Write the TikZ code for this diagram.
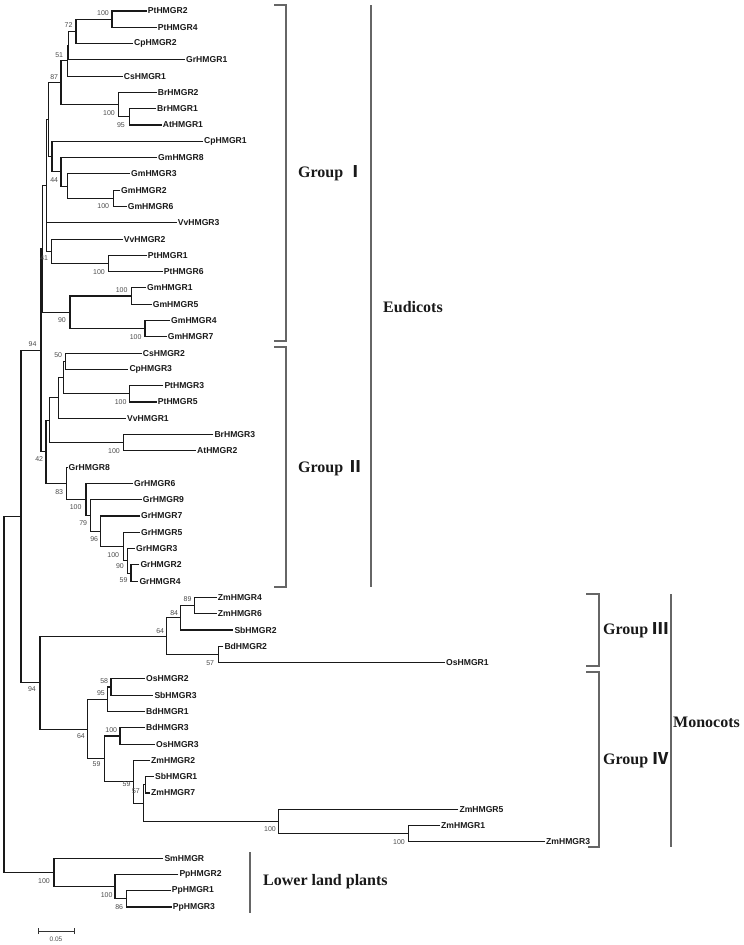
\documentclass[tikz,border=0pt]{standalone}
\usepackage{fontspec}
\setmainfont{Liberation Serif}
\newfontfamily\arialf{Liberation Sans}
\newfontfamily\cjkf{Noto Sans CJK SC}
\begin{document}
\begin{tikzpicture}[x=1pt,y=-1pt,
  leaf/.style={anchor=west, inner sep=1pt, text=black!90, font=\arialf\bfseries\fontsize{8.6}{10}\selectfont},
  bs/.style={anchor=east, inner sep=0pt, text=black!70, font=\arialf\fontsize{7}{8}\selectfont},
  br/.style={line width=1.15pt, black!90},
  grpline/.style={line width=1.2pt, black!60},
  grp/.style={anchor=west, inner sep=0pt, font=\bfseries\fontsize{16}{19}\selectfont, text=black!90}]
\useasboundingbox (0,0) rectangle (744,945);
% ---------- leaves ----------
\node[leaf] (PtHMGR2) at (146.7,11.0) {PtHMGR2};
\node[leaf] (PtHMGR4) at (156.7,27.3) {PtHMGR4};
\node[leaf] (CpHMGR2) at (133.0,43.6) {CpHMGR2};
\node[leaf] (GrHMGR1) at (185.0,59.9) {GrHMGR1};
\node[leaf] (CsHMGR1) at (122.7,76.2) {CsHMGR1};
\node[leaf] (BrHMGR2) at (156.7,92.5) {BrHMGR2};
\node[leaf] (BrHMGR1) at (156.0,108.7) {BrHMGR1};
\node[leaf] (AtHMGR1) at (161.7,125.0) {AtHMGR1};
\node[leaf] (CpHMGR1) at (203.0,141.3) {CpHMGR1};
\node[leaf] (GmHMGR8) at (157.0,157.6) {GmHMGR8};
\node[leaf] (GmHMGR3) at (130.0,173.9) {GmHMGR3};
\node[leaf] (GmHMGR2) at (120.0,190.2) {GmHMGR2};
\node[leaf] (GmHMGR6) at (126.7,206.5) {GmHMGR6};
\node[leaf] (VvHMGR3) at (176.7,222.8) {VvHMGR3};
\node[leaf] (VvHMGR2) at (122.7,239.1) {VvHMGR2};
\node[leaf] (PtHMGR1) at (146.7,255.4) {PtHMGR1};
\node[leaf] (PtHMGR6) at (162.7,271.6) {PtHMGR6};
\node[leaf] (GmHMGR1) at (146.0,287.9) {GmHMGR1};
\node[leaf] (GmHMGR5) at (151.7,304.2) {GmHMGR5};
\node[leaf] (GmHMGR4) at (170.0,320.5) {GmHMGR4};
\node[leaf] (GmHMGR7) at (166.7,336.8) {GmHMGR7};
\node[leaf] (CsHMGR2) at (141.7,353.1) {CsHMGR2};
\node[leaf] (CpHMGR3) at (128.3,369.4) {CpHMGR3};
\node[leaf] (PtHMGR3) at (163.3,385.7) {PtHMGR3};
\node[leaf] (PtHMGR5) at (156.7,402.0) {PtHMGR5};
\node[leaf] (VvHMGR1) at (126.0,418.3) {VvHMGR1};
\node[leaf] (BrHMGR3) at (213.3,434.5) {BrHMGR3};
\node[leaf] (AtHMGR2) at (196.0,450.8) {AtHMGR2};
\node[leaf] (GrHMGR8) at (67.5,467.1) {GrHMGR8};
\node[leaf] (GrHMGR6) at (133.0,483.4) {GrHMGR6};
\node[leaf] (GrHMGR9) at (141.7,499.7) {GrHMGR9};
\node[leaf] (GrHMGR7) at (140.0,516.0) {GrHMGR7};
\node[leaf] (GrHMGR5) at (140.0,532.3) {GrHMGR5};
\node[leaf] (GrHMGR3) at (135.0,548.6) {GrHMGR3};
\node[leaf] (GrHMGR2) at (139.3,564.9) {GrHMGR2};
\node[leaf] (GrHMGR4) at (138.3,581.2) {GrHMGR4};
\node[leaf] (ZmHMGR4) at (216.7,597.5) {ZmHMGR4};
\node[leaf] (ZmHMGR6) at (216.7,613.8) {ZmHMGR6};
\node[leaf] (SbHMGR2) at (233.3,630.0) {SbHMGR2};
\node[leaf] (BdHMGR2) at (223.3,646.3) {BdHMGR2};
\node[leaf] (OsHMGR1) at (445.0,662.6) {OsHMGR1};
\node[leaf] (OsHMGR2) at (145.0,678.9) {OsHMGR2};
\node[leaf] (SbHMGR3) at (153.3,695.2) {SbHMGR3};
\node[leaf] (BdHMGR1) at (145.0,711.5) {BdHMGR1};
\node[leaf] (BdHMGR3) at (145.0,727.8) {BdHMGR3};
\node[leaf] (OsHMGR3) at (155.0,744.1) {OsHMGR3};
\node[leaf] (ZmHMGR2) at (150.0,760.4) {ZmHMGR2};
\node[leaf] (SbHMGR1) at (154.0,776.7) {SbHMGR1};
\node[leaf] (ZmHMGR7) at (150.0,793.0) {ZmHMGR7};
\node[leaf] (ZmHMGR5) at (458.3,809.3) {ZmHMGR5};
\node[leaf] (ZmHMGR1) at (440.0,825.5) {ZmHMGR1};
\node[leaf] (ZmHMGR3) at (545.0,841.8) {ZmHMGR3};
\node[leaf] (SmHMGR) at (163.3,858.1) {SmHMGR};
\node[leaf] (PpHMGR2) at (178.3,874.4) {PpHMGR2};
\node[leaf] (PpHMGR1) at (170.7,890.7) {PpHMGR1};
\node[leaf] (PpHMGR3) at (171.7,907.0) {PpHMGR3};
% ---------- internal nodes ----------
\coordinate (nPtA) at (112,19.2);
\coordinate (n72) at (76,31.4);
\coordinate (nX) at (68.5,45.6);
\coordinate (n51) at (67.5,60.9);
\coordinate (nBr95) at (129.3,116.9);
\coordinate (nBr100) at (118.3,104.7);
\coordinate (n87) at (61,82.8);
\coordinate (nGm26) at (113.3,198.4);
\coordinate (nGm3) at (67.7,186.1);
\coordinate (n44) at (61,171.9);
\coordinate (nCp1) at (52,156.6);
\coordinate (P) at (48.3,119.7);
\coordinate (nPt16) at (108.3,263.5);
\coordinate (n41) at (51.7,251.3);
\coordinate (Q) at (46.7,185.5);
\coordinate (nGm15) at (131.7,296.0);
\coordinate (nGm47) at (145,328.7);
\coordinate (n90) at (70,312.4);
\coordinate (G1) at (42.7,249.0);
\coordinate (n50) at (65.7,361.3);
\coordinate (nPt35) at (129.3,393.8);
\coordinate (S1) at (63.3,377.6);
\coordinate (S2) at (58.3,397.9);
\coordinate (nBrAt) at (123.3,442.7);
\coordinate (S3) at (49.3,420.3);
\coordinate (n59) at (131,573.1);
\coordinate (n90b) at (127.7,560.8);
\coordinate (n100c) at (123.3,546.6);
\coordinate (n96) at (100.7,531.3);
\coordinate (n79) at (90.7,515.5);
\coordinate (n100b) at (86,499.4);
\coordinate (n83) at (66.7,483.3);
\coordinate (n42) at (46,451.8);
\coordinate (n94) at (41,350.4);
\coordinate (n89) at (194.3,605.7);
\coordinate (n84) at (180.7,617.9);
\coordinate (n57) at (218.3,654.5);
\coordinate (n64a) at (166.7,636.2);
\coordinate (n58) at (111,687.0);
\coordinate (n95) at (107.7,699.3);
\coordinate (n100d) at (120,736.0);
\coordinate (n57b) at (145.7,784.8);
\coordinate (nZ2) at (408.3,833.7);
\coordinate (nZ1) at (278.3,821.5);
\coordinate (W) at (143.3,803.2);
\coordinate (n59b) at (133.3,781.8);
\coordinate (n59c) at (104.3,758.9);
\coordinate (n64b) at (87.7,729.1);
\coordinate (n94b) at (40,682.7);
\coordinate (A) at (21,516.5);
\coordinate (n86) at (126.7,898.9);
\coordinate (n100p) at (115,886.6);
\coordinate (n100l) at (54,872.4);
\coordinate (root) at (4,694.5);
% ---------- branches ----------
\draw[br] (PtHMGR2.west) -| (nPtA) |- (PtHMGR4.west);
\draw[br] (nPtA) -| (n72) |- (CpHMGR2.west);
\draw[br] (n72) -| (nX) |- (GrHMGR1.west);
\draw[br] (nX) -| (n51) |- (CsHMGR1.west);
\draw[br] (BrHMGR1.west) -| (nBr95) |- (AtHMGR1.west);
\draw[br] (BrHMGR2.west) -| (nBr100) |- (nBr95);
\draw[br] (n51) -| (n87) |- (nBr100);
\draw[br] (GmHMGR2.west) -| (nGm26) |- (GmHMGR6.west);
\draw[br] (GmHMGR3.west) -| (nGm3) |- (nGm26);
\draw[br] (GmHMGR8.west) -| (n44) |- (nGm3);
\draw[br] (CpHMGR1.west) -| (nCp1) |- (n44);
\draw[br] (n87) -| (P) |- (nCp1);
\draw[br] (PtHMGR1.west) -| (nPt16) |- (PtHMGR6.west);
\draw[br] (VvHMGR2.west) -| (n41) |- (nPt16);
\draw[br] (P) -| (Q) |- (n41);
\draw[br] (Q |- VvHMGR3.west) -- (VvHMGR3.west);
\draw[br] (GmHMGR1.west) -| (nGm15) |- (GmHMGR5.west);
\draw[br] (GmHMGR4.west) -| (nGm47) |- (GmHMGR7.west);
\draw[br] (nGm15) -| (n90) |- (nGm47);
\draw[br] (Q) -| (G1) |- (n90);
\draw[br] (CsHMGR2.west) -| (n50) |- (CpHMGR3.west);
\draw[br] (PtHMGR3.west) -| (nPt35) |- (PtHMGR5.west);
\draw[br] (n50) -| (S1) |- (nPt35);
\draw[br] (S1) -| (S2) |- (VvHMGR1.west);
\draw[br] (BrHMGR3.west) -| (nBrAt) |- (AtHMGR2.west);
\draw[br] (S2) -| (S3) |- (nBrAt);
\draw[br] (GrHMGR2.west) -| (n59) |- (GrHMGR4.west);
\draw[br] (GrHMGR3.west) -| (n90b) |- (n59);
\draw[br] (GrHMGR5.west) -| (n100c) |- (n90b);
\draw[br] (GrHMGR7.west) -| (n96) |- (n100c);
\draw[br] (GrHMGR9.west) -| (n79) |- (n96);
\draw[br] (GrHMGR6.west) -| (n100b) |- (n79);
\draw[br] (GrHMGR8.west) -| (n83) |- (n100b);
\draw[br] (S3) -| (n42) |- (n83);
\draw[br] (G1) -| (n94) |- (n42);
\draw[br] (ZmHMGR4.west) -| (n89) |- (ZmHMGR6.west);
\draw[br] (n89) -| (n84) |- (SbHMGR2.west);
\draw[br] (BdHMGR2.west) -| (n57) |- (OsHMGR1.west);
\draw[br] (n84) -| (n64a) |- (n57);
\draw[br] (OsHMGR2.west) -| (n58) |- (SbHMGR3.west);
\draw[br] (n58) -| (n95) |- (BdHMGR1.west);
\draw[br] (BdHMGR3.west) -| (n100d) |- (OsHMGR3.west);
\draw[br] (SbHMGR1.west) -| (n57b) |- (ZmHMGR7.west);
\draw[br] (ZmHMGR1.west) -| (nZ2) |- (ZmHMGR3.west);
\draw[br] (ZmHMGR5.west) -| (nZ1) |- (nZ2);
\draw[br] (n57b) -| (W) |- (nZ1);
\draw[br] (ZmHMGR2.west) -| (n59b) |- (W);
\draw[br] (n100d) -| (n59c) |- (n59b);
\draw[br] (n95) -| (n64b) |- (n59c);
\draw[br] (n64a) -| (n94b) |- (n64b);
\draw[br] (n94) -| (A) |- (n94b);
\draw[br] (PpHMGR1.west) -| (n86) |- (PpHMGR3.west);
\draw[br] (PpHMGR2.west) -| (n100p) |- (n86);
\draw[br] (SmHMGR.west) -| (n100l) |- (n100p);
\draw[br] (A) -| (root) |- (n100l);
% ---------- bootstrap values ----------
\node[bs] (b1) at (109,13.3) {100};
\node[bs] (b2) at (72.7,25) {72};
\node[bs] (b3) at (63.3,55) {51};
\node[bs] (b4) at (58.3,77) {87};
\node[bs] (b5) at (115,113) {100};
\node[bs] (b6) at (125,125) {95};
\node[bs] (b7) at (58.3,180) {44};
\node[bs] (b8) at (109.3,206) {100};
\node[bs] (b9) at (48.3,258.3) {41};
\node[bs] (b10) at (105,271.7) {100};
\node[bs] (b11) at (127.7,290) {100};
\node[bs] (b12) at (66,320) {90};
\node[bs] (b13) at (141.7,336.7) {100};
\node[bs] (b14) at (62.3,355) {50};
\node[bs] (b15) at (126.7,401.7) {100};
\node[bs] (b16) at (120,450.7) {100};
\node[bs] (b17) at (36.7,344) {94};
\node[bs] (b18) at (43.3,459.3) {42};
\node[bs] (b19) at (63.3,491.7) {83};
\node[bs] (b20) at (81.7,507.3) {100};
\node[bs] (b21) at (87.3,523.3) {79};
\node[bs] (b22) at (98.3,539.3) {96};
\node[bs] (b23) at (119.3,555) {100};
\node[bs] (b24) at (124,566) {90};
\node[bs] (b25) at (127.7,580) {59};
\node[bs] (b26) at (191.7,599.3) {89};
\node[bs] (b27) at (178.3,612.7) {84};
\node[bs] (b28) at (164.3,630.7) {64};
\node[bs] (b29) at (214.3,662.7) {57};
\node[bs] (b30) at (36,689.3) {94};
\node[bs] (b31) at (108.3,680.7) {58};
\node[bs] (b32) at (105,693.3) {95};
\node[bs] (b33) at (85,735.7) {64};
\node[bs] (b34) at (117.3,730) {100};
\node[bs] (b35) at (100.7,764) {59};
\node[bs] (b36) at (130.7,784) {59};
\node[bs] (b37) at (140,790.7) {57};
\node[bs] (b38) at (276,829.3) {100};
\node[bs] (b39) at (405,841.7) {100};
\node[bs] (b40) at (50,881) {100};
\node[bs] (b41) at (112.7,895) {100};
\node[bs] (b42) at (123.3,907.3) {86};
% ---------- group brackets ----------
\draw[grpline] (274,5) -- (286,5) -- (286,341) -- (274,341);
\draw[grpline] (274,347) -- (286,347) -- (286,587) -- (274,587);
\draw[grpline] (371,5) -- (371,587);
\draw[grpline] (586,594) -- (599,594) -- (599,666) -- (586,666);
\draw[grpline] (586,672) -- (599,672) -- (599,847) -- (588,847);
\draw[grpline] (671,594) -- (671,847);
\draw[grpline] (250,852) -- (250,913);
\node[grp] (gI) at (298,173) {Group {\cjkf\bfseries Ⅰ}};
\node[grp] (gII) at (298,468) {Group {\cjkf\bfseries Ⅱ}};
\node[grp] (eud) at (383,307) {Eudicots};
\node[grp] (gIII) at (603,630) {Group {\cjkf\bfseries Ⅲ}};
\node[grp] (gIV) at (603,760) {Group {\cjkf\bfseries Ⅳ}};
\node[grp] (mono) at (673,722) {Monocots};
\node[grp] (low) at (263,882) {Lower land plants};
% ---------- scale bar ----------
\coordinate (sb1) at (38,931);
\coordinate (sb2) at (74,931);
\draw[line width=1pt, black!80] (sb1) -- (sb2);
\draw[line width=1pt, black!80] ([yshift=-3pt]sb1) -- ([yshift=3pt]sb1);
\draw[line width=1pt, black!80] ([yshift=-3pt]sb2) -- ([yshift=3pt]sb2);
\node[inner sep=0pt, text=black!70, font=\arialf\fontsize{6.5}{7}\selectfont] (sblab) at (56,939.5) {0.05};
\end{tikzpicture}
\end{document}
